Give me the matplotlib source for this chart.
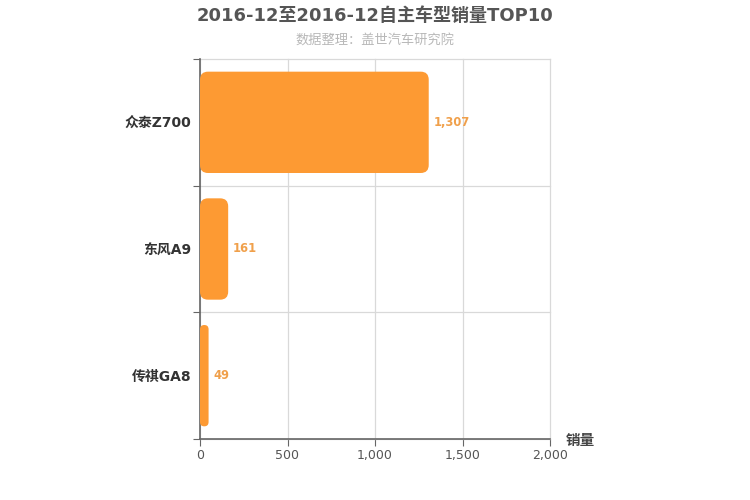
import matplotlib.pyplot as plt
from matplotlib.patches import FancyBboxPatch
from matplotlib.ticker import FuncFormatter

plt.rcParams['font.family'] = ['DejaVu Sans', 'Noto Sans CJK SC']

# Data (top to bottom)
models = ["众泰Z700", "东风A9", "传祺GA8"]
sales = [1307, 161, 49]
x_ticks = [0, 500, 1000, 1500, 2000]

title = "2016-12至2016-12自主车型销量TOP10"
subtitle = "数据整理：盖世汽车研究院"

bar_color = "#fd9a33"
label_color = "#f0a04b"

fig = plt.figure(figsize=(7.5, 5), dpi=100)
ax = fig.add_axes([200 / 750, 61 / 500, 350 / 750, 380 / 500])

n = len(models)
xmax = 2000
ax.set_xlim(0, xmax)
ax.set_ylim(n, 0)

# pixel -> data conversion for the rounded corners
x_per_px = xmax / 350
y_per_px = n / 380
radius_px = 8
bar_h = 0.8

for i, (name, val) in enumerate(zip(models, sales)):
    y0 = i + (1 - bar_h) / 2
    rs = min(radius_px * x_per_px, val / 2)
    patch = FancyBboxPatch((0, y0), val, bar_h,
                           boxstyle=f"round,pad=0,rounding_size={rs}",
                           mutation_aspect=y_per_px / x_per_px,
                           facecolor=bar_color, edgecolor="none", zorder=3)
    ax.add_patch(patch)
    ax.text(val + 5 * x_per_px, i + 0.5, f"{val:,}", va="center", ha="left",
            color=label_color, fontsize=8.3, fontweight="bold", zorder=4)

# y categories centered in bands, ticks at boundaries
ax.set_yticks(range(n + 1))
ax.set_yticklabels([])
ax.set_yticks([i + 0.5 for i in range(n)], minor=True)
ax.set_yticklabels(models, minor=True, fontsize=10, fontweight="bold", color="#333333")
ax.tick_params(axis="y", which="minor", length=0, pad=6)
ax.tick_params(axis="y", which="major", length=5, color="#666666")

ax.set_xticks(x_ticks)
ax.xaxis.set_major_formatter(FuncFormatter(lambda v, p: f"{int(v):,}"))
ax.tick_params(axis="x", length=5, pad=2, color="#666666", labelsize=9, labelcolor="#555555")

ax.grid(True, which="major", color="#d9d9d9", linewidth=0.9, zorder=0)
for gl in ax.get_xgridlines() + ax.get_ygridlines():
    gl.set_clip_on(False)
ax.set_axisbelow(True)

for side in ["top", "right"]:
    ax.spines[side].set_visible(False)
ax.spines["left"].set_color("#666666")
ax.spines["bottom"].set_color("#666666")
ax.spines["left"].set_linewidth(1.2)
ax.spines["bottom"].set_linewidth(1.2)

fig.text(580 / 750, 1 - 440 / 500, "销量", ha="center", va="center",
         fontsize=10.5, fontweight="bold", color="#444444")

fig.text(0.5, 1 - 16 / 500, title, ha="center", va="center",
         fontsize=13, fontweight="bold", color="#555555")
fig.text(0.5, 1 - 41 / 500, subtitle, ha="center", va="center",
         fontsize=9.5, fontweight="medium", color="#b8b8b8",
         family=['Noto Sans CJK SC', 'DejaVu Sans'])

fig.savefig("out.png", dpi=100, facecolor="white")
